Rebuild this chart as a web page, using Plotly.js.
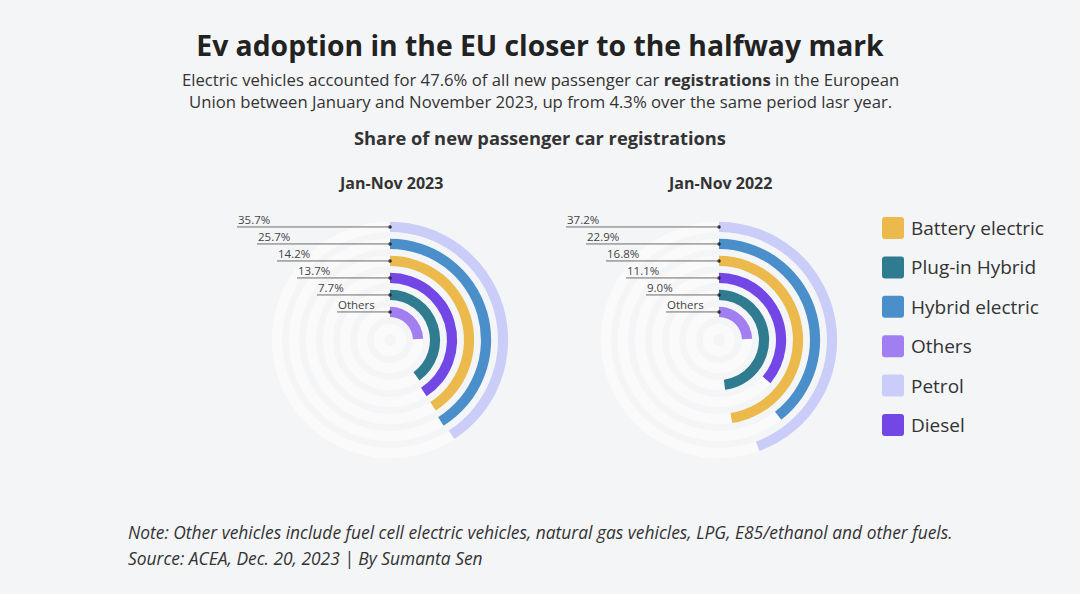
<!DOCTYPE html>
<html>
<head>
<meta charset="utf-8">
<script src="https://cdn.plot.ly/plotly-3.0.1.min.js"></script>
<style>
  html, body { margin: 0; padding: 0; background: #f4f5f7; }
  #chart { width: 1080px; height: 594px; }
</style>
</head>
<body>
<div id="chart"></div>
<script>
// ---------------- data ----------------
// rings from outer to inner
const categories = ['Petrol', 'Hybrid electric', 'Battery electric', 'Diesel', 'Plug-in Hybrid', 'Others'];
const labels2023 = ['35.7%', '25.7%', '14.2%', '13.7%', '7.7%', 'Others'];
const labels2022 = ['37.2%', '22.9%', '16.8%', '11.1%', '9.0%', 'Others'];
// arc sweep (degrees, clockwise from top) as drawn in the reference
const arc2023 = [147, 148, 147, 147, 144, 88];
const arc2022 = [160, 142, 171, 130, 173, 88];
const panelTitles = ['Jan-Nov 2023', 'Jan-Nov 2022'];
const legendOrder = ['Battery electric', 'Plug-in Hybrid', 'Hybrid electric', 'Others', 'Petrol', 'Diesel'];
const colors = {
  'Battery electric': '#ebb94c',
  'Plug-in Hybrid': '#2f7b8f',
  'Hybrid electric': '#4a8fca',
  'Others': '#a27ff0',
  'Petrol': '#c9cdf8',
  'Diesel': '#7347e6'
};

// ---------------- layout constants ----------------
const W = 1080, H = 594;
const PX = 17;            // pixels per radial unit (one ring slot)
const RPX = 125;          // polar radius in px
const R = RPX / PX;
const LEFT = 175;         // px of leader area left of centre
const THICK = 0.6;        // ring thickness (units)
const FONT = '"Open Sans", "Noto Sans", sans-serif';
const panels = [
  {polar: 'polar', xa: 'x', ya: 'y', cx: 390, cy: 340, arcs: arc2023, labels: labels2023, title: panelTitles[0]},
  {polar: 'polar2', xa: 'x2', ya: 'y2', cx: 719, cy: 340, arcs: arc2022, labels: labels2022, title: panelTitles[1]}
];
const nRings = categories.length;
const slotOf = i => nRings + 1 - i;          // outer ring = highest slot, one empty inner slot
const ringR = i => slotOf(i) - 0.35;          // stroke centre radius (units)

const traces = [];
const annotations = [];
const shapes = [];
const layout = {
  width: W, height: H,
  margin: {l: 0, r: 0, t: 0, b: 0},
  paper_bgcolor: '#f4f5f7',
  plot_bgcolor: 'rgba(0,0,0,0)',
  showlegend: false,
  font: {family: FONT, color: '#333'},
  title: {
    text: '<b>Ev adoption in the EU closer to the halfway mark</b>',
    x: 0.5, xanchor: 'center', y: 1 - 46 / H, yanchor: 'middle',
    font: {family: FONT, size: 28.3, color: '#222'}
  },
  shapes: shapes,
  annotations: annotations
};

panels.forEach((p, k) => {
  const dom = {x: [(p.cx - RPX) / W, (p.cx + RPX) / W], y: [1 - (p.cy + RPX) / H, 1 - (p.cy - RPX) / H]};
  layout[p.polar] = {
    domain: dom,
    bgcolor: 'rgba(0,0,0,0)',
    radialaxis: {visible: false, range: [0, R]},
    angularaxis: {visible: false, direction: 'clockwise', rotation: 90, showgrid: false},
    barmode: 'overlay'
  };
  const xk = k === 0 ? 'xaxis' : 'xaxis2', yk = k === 0 ? 'yaxis' : 'yaxis2';
  layout[xk] = {domain: [(p.cx - LEFT) / W, (p.cx + RPX) / W], range: [-LEFT / PX, RPX / PX], visible: false, fixedrange: true};
  layout[yk] = {domain: dom.y, range: [-R, R], visible: false, fixedrange: true};

  // background tracks
  const slots = [];
  for (let s = nRings + 1; s >= 1; s--) slots.push(s);
  traces.push({
    type: 'barpolar', subplot: p.polar,
    r: slots.map(() => THICK), base: slots.map(s => s - 0.35 - THICK / 2),
    theta: slots.map(() => 180), width: slots.map(() => 359.99),
    marker: {color: '#fafafb', line: {width: 0}}, hoverinfo: 'skip', showlegend: false
  });

  // arcs
  categories.forEach((c, i) => {
    traces.push({
      type: 'barpolar', subplot: p.polar, name: c,
      r: [THICK], base: [ringR(i) - THICK / 2],
      theta: [p.arcs[i] / 2], width: [p.arcs[i]],
      marker: {color: colors[c], line: {width: 0}},
      hovertemplate: c + ': ' + p.labels[i] + '<extra></extra>', showlegend: false
    });
  });

  // invisible anchor trace so the cartesian overlay exists
  traces.push({type: 'scatter', xaxis: p.xa, yaxis: p.ya, x: [0], y: [0], mode: 'markers',
    marker: {opacity: 0}, hoverinfo: 'skip', showlegend: false});

  // leader lines (shapes, drawn above the polar layer) and labels
  categories.forEach((c, i) => {
    const off = (153 - 20 * i) / PX;
    shapes.push({type: 'line', xref: p.xa, yref: p.ya, x0: -off, x1: 0, y0: ringR(i), y1: ringR(i),
      line: {color: '#6b6b6b', width: 1}, layer: 'above'});
    annotations.push({
      xref: p.xa, yref: p.ya, x: -off, y: ringR(i), xanchor: 'left', yanchor: 'bottom',
      text: p.labels[i], showarrow: false, yshift: -2, xshift: -1,
      font: {family: FONT, size: 11.5, color: '#444'}
    });
  });
  // dots at ring start
  traces.push({
    type: 'scatterpolar', subplot: p.polar, r: categories.map((c, i) => ringR(i)), theta: categories.map(() => 0),
    mode: 'markers', marker: {color: '#222', size: 3.5}, hoverinfo: 'skip', showlegend: false
  });

  annotations.push({
    xref: 'paper', yref: 'paper', x: p.cx / W, y: 1 - 183 / H, xanchor: 'center', yanchor: 'middle',
    text: '<b>' + p.title + '</b>', showarrow: false, font: {family: FONT, size: 16, color: '#333'}
  });
});

// headings & notes
annotations.push({
  xref: 'paper', yref: 'paper', x: 0.5, y: 1 - 90.5 / H, xanchor: 'center', yanchor: 'middle', align: 'center',
  text: 'Electric vehicles accounted for 47.6% of all new passenger car <b>registrations</b> in the European<br>Union between January and November 2023, up from 4.3% over the same period lasr year.',
  showarrow: false, font: {family: FONT, size: 16.7, color: '#333'}
});
annotations.push({
  xref: 'paper', yref: 'paper', x: 0.5, y: 1 - 138 / H, xanchor: 'center', yanchor: 'middle',
  text: '<b>Share of new passenger car registrations</b>', showarrow: false,
  font: {family: FONT, size: 18.3, color: '#333'}
});
annotations.push({
  xref: 'paper', yref: 'paper', x: 126 / W, y: 1 - 532 / H, xanchor: 'left', yanchor: 'middle',
  text: '<i>Note: Other vehicles include fuel cell electric vehicles, natural gas vehicles, LPG, E85/ethanol and other fuels.</i>',
  showarrow: false, font: {family: FONT, size: 17.4, color: '#333'}
});
annotations.push({
  xref: 'paper', yref: 'paper', x: 126 / W, y: 1 - 558 / H, xanchor: 'left', yanchor: 'middle',
  text: '<i>Source: ACEA, Dec. 20, 2023 | By Sumanta Sen</i>',
  showarrow: false, font: {family: FONT, size: 17.4, color: '#333'}
});

// legend (manual, large rounded swatches)
legendOrder.forEach((c, j) => {
  const cy = 228 + j * 39.4, x0 = 882, s = 22, rr = 3;
  const X = v => v / W, Y = v => 1 - v / H;
  const t = cy - s / 2, b = cy + s / 2, l = x0, r = x0 + s;
  const path = `M${X(l + rr)},${Y(t)} L${X(r - rr)},${Y(t)} Q${X(r)},${Y(t)} ${X(r)},${Y(t + rr)} L${X(r)},${Y(b - rr)} Q${X(r)},${Y(b)} ${X(r - rr)},${Y(b)} L${X(l + rr)},${Y(b)} Q${X(l)},${Y(b)} ${X(l)},${Y(b - rr)} L${X(l)},${Y(t + rr)} Q${X(l)},${Y(t)} ${X(l + rr)},${Y(t)} Z`;
  shapes.push({type: 'path', xref: 'paper', yref: 'paper', path: path, fillcolor: colors[c], line: {width: 0}});
  annotations.push({
    xref: 'paper', yref: 'paper', x: 909 / W, y: 1 - cy / H, xanchor: 'left', yanchor: 'middle',
    text: c, showarrow: false, font: {family: FONT, size: 19, color: '#333'}
  });
});

Plotly.newPlot('chart', traces, layout, {displayModeBar: false});
</script>
</body>
</html>
